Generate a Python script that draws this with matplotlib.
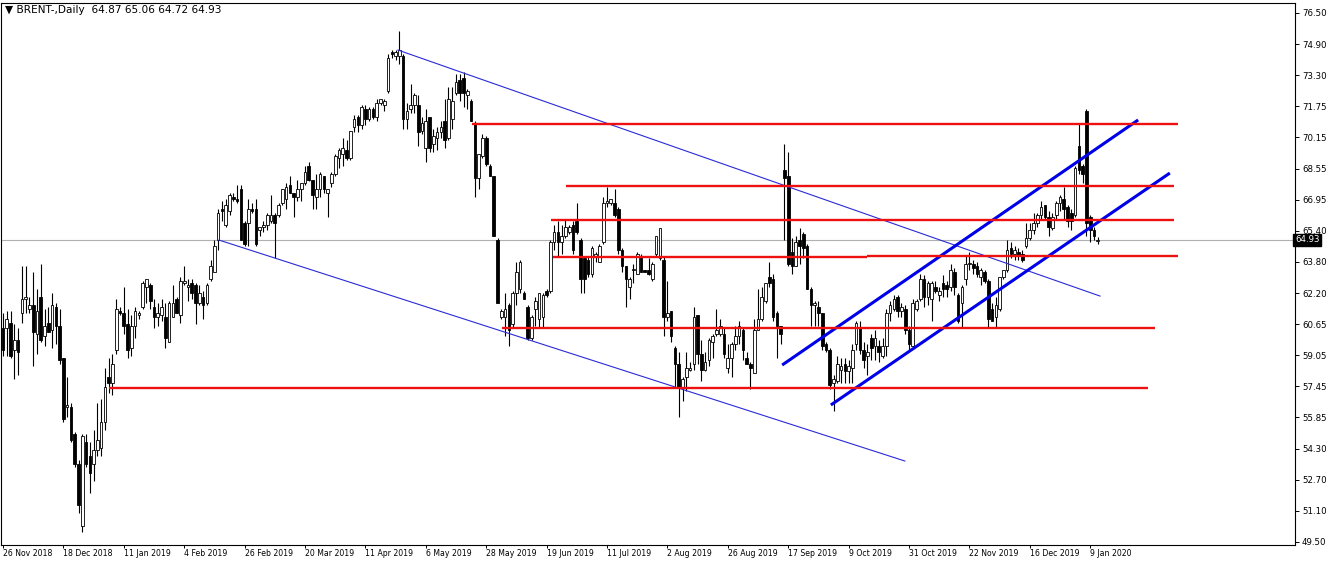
import matplotlib
matplotlib.use("Agg")
import matplotlib.pyplot as plt
import numpy as np

# ---- daily OHLC, bar 0 = 26 Nov 2018 ----
opens = [
    60.4, 60.4, 60.7, 59.3, 59.8, 61.2, 61.9, 61.4, 61.6, 60.1,
    62.0, 60.0, 60.7, 60.3, 61.5, 60.5, 58.9, 56.4, 56.4, 55.0,
    53.5, 50.3, 54.6, 53.9, 53.5, 54.2, 54.3, 55.6, 57.9, 57.6,
    59.3, 61.3, 61.2, 60.6, 59.4, 60.5, 61.1, 61.5, 62.5, 62.6,
    61.5, 61.0, 61.1, 61.0, 59.7, 61.0, 61.9, 61.1, 62.7, 62.5,
    62.7, 62.6, 61.7, 62.0, 61.7, 62.9, 63.3, 64.9, 66.5, 65.7,
    66.4, 67.1, 67.0, 67.5, 65.8, 65.8, 66.5, 66.5, 65.4, 65.6,
    65.7, 65.9, 66.2, 66.2, 66.8, 67.0, 67.7, 67.3, 67.1, 67.5,
    67.8, 68.7, 68.0, 67.1, 67.5, 68.2, 67.3, 67.8, 68.3, 69.1,
    69.3, 69.5, 69.1, 70.7, 71.2, 70.8, 71.6, 71.1, 71.6, 71.2,
    71.9, 71.8, 72.5, 74.5, 74.3, 74.3, 74.3, 71.1, 71.6, 71.8,
    71.8, 70.5, 69.6, 71.2, 69.8, 70.1, 70.4, 71.0, 70.1, 71.1,
    72.4, 73.1, 73.2, 72.3, 72.0, 70.9, 68.1, 69.2, 70.1, 68.7,
    68.2, 64.9, 61.0, 61.0, 61.6, 60.6, 62.2, 62.4, 62.2, 61.5,
    59.9, 61.4, 60.9, 61.0, 62.3, 62.3, 64.8, 65.3, 64.8, 65.1,
    65.3, 65.7, 65.9, 64.9, 64.0, 63.9, 63.2, 64.1, 63.8, 64.8,
    66.8, 66.8, 66.8, 66.5, 64.4, 63.6, 62.5, 63.4, 63.2, 64.1,
    63.4, 63.4, 62.9, 64.2, 64.0, 63.9, 61.0, 61.3, 59.4, 58.6,
    57.4, 57.9, 58.3, 58.6, 61.1, 59.1, 58.3, 58.8, 59.7, 60.1,
    60.1, 60.1, 58.4, 58.9, 59.6, 60.0, 60.3, 58.9, 58.6, 58.1,
    60.3, 60.9, 61.8, 63.0, 62.9, 61.2, 60.5, 68.5, 68.2, 64.3,
    63.6, 64.9, 65.2, 64.6, 62.4, 61.6, 61.5, 61.2, 59.6, 59.3,
    57.6, 57.7, 58.3, 58.6, 58.2, 58.4, 59.6, 60.4, 59.3, 59.0,
    59.9, 59.5, 59.5, 59.0, 59.5, 61.2, 61.4, 62.0, 61.3, 61.4,
    60.3, 59.5, 61.4, 61.9, 62.9, 62.0, 61.9, 62.5, 62.1, 62.7,
    62.6, 62.5, 63.3, 62.1, 61.7, 62.9, 63.7, 63.7, 63.6, 63.0,
    63.3, 62.8, 61.4, 61.0, 61.4, 63.0, 63.4, 64.5, 64.2, 64.3,
    64.2, 64.6, 65.0, 65.4, 65.8, 66.2, 66.7, 66.1, 65.5, 66.2,
    66.8, 67.0, 66.6, 66.3, 66.2, 69.7, 68.7, 71.5, 66.1, 65.4,
    64.87,
]
highs = [
    61.2, 61.3, 61.3, 60.6, 60.4, 63.6, 63.6, 62.0, 63.3, 62.4,
    63.7, 61.4, 61.5, 62.2, 61.7, 61.4, 58.9, 57.9, 56.6, 55.1,
    53.7, 55.0, 55.0, 54.6, 55.2, 56.6, 56.8, 58.4, 58.9, 59.1,
    61.9, 61.5, 62.5, 61.4, 61.1, 61.5, 61.3, 62.8, 62.9, 62.7,
    61.9, 61.7, 61.9, 61.7, 61.8, 62.6, 62.0, 63.0, 63.6, 62.9,
    62.9, 62.7, 62.6, 62.3, 62.7, 63.9, 64.9, 66.5, 66.9, 67.0,
    67.3, 67.3, 67.7, 67.7, 65.9, 67.0, 66.8, 67.0, 65.6, 65.9,
    66.3, 67.2, 66.3, 66.8, 67.5, 67.8, 68.2, 67.3, 68.0, 67.8,
    68.7, 68.9, 68.0, 68.3, 68.4, 68.2, 67.5, 68.4, 69.3, 69.6,
    70.1, 70.0, 70.5, 71.3, 71.3, 71.8, 71.8, 71.7, 71.7, 72.1,
    72.1, 72.1, 74.4, 74.6, 74.6, 75.6, 74.4, 71.9, 72.9, 72.4,
    72.3, 71.2, 71.6, 71.2, 70.6, 70.7, 71.0, 72.1, 72.7, 72.7,
    73.4, 73.4, 73.5, 72.6, 72.1, 71.0, 69.3, 70.3, 70.2, 68.8,
    68.2, 65.0, 61.4, 62.2, 61.7, 62.3, 63.8, 63.9, 62.3, 61.6,
    61.1, 62.0, 62.2, 62.2, 62.4, 64.9, 65.7, 65.9, 65.7, 66.0,
    65.7, 65.9, 66.8, 65.0, 64.1, 64.1, 64.6, 64.3, 64.7, 67.1,
    67.6, 67.0, 67.5, 66.6, 64.5, 63.6, 63.0, 63.7, 64.3, 64.2,
    63.4, 64.0, 63.8, 65.1, 65.5, 64.1, 62.8, 61.3, 59.5, 59.2,
    57.9, 59.2, 58.7, 61.5, 61.1, 59.8, 59.2, 59.9, 60.1, 61.4,
    60.9, 60.4, 59.6, 59.7, 60.5, 60.8, 60.4, 59.2, 58.7, 60.9,
    62.4, 62.5, 62.7, 63.8, 63.2, 61.3, 60.5, 69.8, 69.4, 65.0,
    65.1, 65.5, 65.3, 64.7, 62.5, 61.8, 61.8, 61.2, 59.7, 59.4,
    58.0, 59.0, 58.9, 58.9, 58.8, 59.6, 60.8, 60.8, 59.7, 59.6,
    60.1, 60.3, 59.8, 59.9, 61.4, 61.8, 62.1, 62.1, 61.7, 61.6,
    60.5, 61.9, 61.9, 63.2, 63.1, 62.8, 62.8, 62.8, 62.5, 63.1,
    62.8, 63.7, 63.5, 62.2, 62.6, 64.1, 64.3, 63.9, 63.8, 63.5,
    63.4, 62.9, 61.7, 62.0, 63.0, 63.4, 64.9, 64.8, 64.6, 64.5,
    64.4, 65.8, 65.8, 66.3, 66.3, 66.9, 66.7, 66.4, 66.3, 66.9,
    67.2, 67.6, 66.7, 66.5, 68.7, 70.9, 68.8, 71.6, 66.2, 65.6,
    65.06,
]
lows = [
    59.0, 59.0, 58.9, 57.8, 58.0, 60.7, 61.2, 61.2, 58.5, 59.1,
    59.7, 59.5, 60.2, 59.4, 59.6, 58.6, 55.6, 55.9, 54.6, 53.3,
    51.0, 50.0, 53.3, 52.0, 52.6, 53.9, 53.9, 55.2, 57.1, 57.0,
    59.1, 61.1, 60.1, 58.9, 59.0, 59.9, 60.9, 61.4, 61.7, 61.4,
    60.4, 60.5, 60.8, 59.4, 59.7, 61.0, 61.2, 60.7, 62.6, 61.8,
    61.9, 60.6, 61.6, 60.9, 61.6, 62.8, 63.3, 64.4, 65.9, 65.6,
    66.2, 66.9, 66.8, 64.9, 64.6, 64.6, 66.3, 64.6, 65.1, 65.3,
    65.4, 65.8, 64.0, 66.1, 66.7, 66.5, 67.3, 66.1, 66.9, 66.9,
    67.7, 67.9, 66.5, 66.5, 67.1, 67.3, 66.1, 67.6, 68.2, 68.6,
    68.7, 69.0, 69.0, 70.4, 70.4, 70.6, 70.8, 71.0, 71.1, 71.0,
    71.8, 71.5, 72.4, 74.2, 74.1, 73.9, 70.6, 70.6, 71.4, 71.4,
    69.7, 70.3, 68.9, 69.4, 69.4, 69.5, 70.1, 69.6, 70.0, 70.6,
    72.3, 72.0, 71.7, 71.6, 71.0, 67.1, 67.5, 69.1, 68.7, 68.2,
    65.1, 61.7, 60.9, 60.0, 59.5, 60.4, 61.6, 62.2, 61.9, 59.8,
    59.8, 60.5, 60.4, 60.4, 62.0, 62.2, 64.4, 64.1, 64.2, 65.0,
    65.2, 64.2, 65.2, 62.2, 62.2, 63.0, 63.0, 63.8, 63.8, 64.7,
    66.6, 66.7, 66.1, 64.2, 63.3, 61.5, 61.9, 62.7, 63.2, 63.3,
    63.3, 63.1, 62.8, 64.1, 63.9, 60.0, 60.8, 59.7, 57.4, 55.9,
    56.7, 57.2, 58.2, 58.3, 58.6, 57.7, 58.2, 58.5, 58.9, 60.0,
    60.0, 58.9, 58.1, 57.9, 59.3, 59.6, 58.8, 58.6, 57.3, 58.1,
    60.3, 60.8, 61.7, 62.5, 60.8, 58.9, 59.6, 64.9, 63.6, 63.2,
    63.6, 63.7, 64.0, 62.4, 60.5, 60.5, 60.5, 59.3, 59.2, 57.3,
    56.2, 57.6, 57.6, 57.6, 57.6, 57.6, 59.3, 59.1, 58.4, 58.0,
    58.8, 58.8, 58.7, 58.9, 59.0, 60.8, 61.3, 61.0, 61.0, 60.1,
    59.3, 59.4, 61.3, 61.8, 61.5, 61.6, 60.8, 62.2, 61.8, 62.0,
    62.0, 62.3, 62.1, 60.7, 60.4, 62.6, 63.4, 63.2, 63.0, 62.6,
    62.7, 60.4, 60.8, 60.4, 61.3, 62.9, 63.3, 64.0, 63.9, 63.9,
    63.8, 64.5, 64.9, 65.2, 65.6, 66.0, 66.0, 65.1, 65.4, 66.0,
    66.4, 66.0, 65.6, 65.4, 66.1, 68.3, 67.8, 65.1, 64.8, 64.9,
    64.72,
]
closes = [
    59.3, 60.9, 59.0, 59.8, 59.2, 61.9, 62.0, 61.6, 60.2, 61.3,
    59.8, 60.5, 60.2, 61.6, 60.5, 58.8, 55.8, 56.5, 54.7, 53.5,
    51.4, 54.9, 53.5, 53.0, 54.2, 54.7, 55.6, 57.4, 57.6, 58.6,
    61.4, 61.2, 60.5, 59.3, 60.5, 61.3, 61.2, 62.7, 62.9, 61.8,
    61.0, 61.2, 61.5, 59.9, 61.7, 61.7, 61.2, 62.8, 62.8, 62.6,
    62.2, 61.7, 62.2, 61.6, 62.6, 63.6, 64.6, 66.3, 66.4, 66.7,
    67.2, 67.0, 66.9, 64.9, 64.7, 66.5, 66.4, 64.7, 65.6, 65.7,
    66.2, 66.2, 65.8, 66.7, 67.5, 67.6, 67.3, 67.1, 67.5, 67.8,
    68.4, 68.0, 67.2, 67.5, 68.3, 67.5, 67.5, 68.3, 69.2, 69.5,
    69.6, 69.1, 70.5, 71.1, 70.8, 71.7, 71.1, 71.6, 71.2, 71.9,
    72.1, 72.0, 74.2, 74.4, 74.5, 74.6, 71.1, 71.5, 71.8, 72.3,
    70.4, 70.9, 71.0, 69.6, 70.2, 70.4, 70.7, 70.0, 72.1, 72.0,
    73.0, 72.4, 72.4, 72.5, 71.0, 68.1, 69.3, 70.1, 68.8, 68.2,
    65.1, 61.7, 61.3, 61.4, 60.3, 62.2, 63.3, 63.8, 61.9, 59.9,
    61.0, 61.8, 62.2, 62.1, 62.1, 64.8, 65.3, 64.8, 65.1, 65.6,
    65.6, 64.4, 65.3, 62.9, 62.9, 63.2, 64.5, 64.2, 64.6, 66.8,
    66.9, 67.0, 66.2, 64.4, 63.6, 62.9, 62.9, 63.4, 64.2, 63.3,
    63.3, 63.2, 63.7, 65.1, 65.5, 61.0, 61.2, 60.0, 58.6, 57.4,
    57.8, 58.4, 58.4, 61.0, 59.1, 58.3, 58.7, 59.8, 60.0, 60.3,
    60.5, 59.1, 58.9, 59.6, 60.0, 60.5, 59.3, 58.6, 58.4, 60.3,
    60.9, 62.0, 62.7, 62.7, 61.0, 60.5, 60.1, 68.1, 63.7, 63.6,
    64.8, 64.6, 64.5, 62.4, 61.6, 61.7, 61.2, 59.5, 59.3, 57.5,
    57.8, 58.6, 58.5, 58.2, 58.5, 59.3, 60.7, 59.3, 58.8, 59.2,
    59.4, 59.9, 59.2, 59.5, 61.2, 61.6, 61.9, 61.3, 61.5, 60.3,
    59.6, 61.7, 61.8, 62.9, 62.0, 62.7, 62.7, 62.3, 62.3, 62.4,
    62.4, 63.4, 62.5, 60.8, 62.5, 63.7, 63.7, 63.5, 63.2, 63.4,
    62.8, 60.9, 60.8, 61.6, 63.0, 63.4, 64.4, 64.2, 64.4, 64.1,
    63.9, 65.0, 65.4, 65.8, 66.2, 66.6, 66.1, 65.6, 66.1, 66.8,
    67.1, 66.5, 65.9, 65.9, 68.6, 68.5, 68.3, 65.8, 65.4, 65.1,
    64.93,
]

date_labels = ["26 Nov 2018", "18 Dec 2018", "11 Jan 2019", "4 Feb 2019",
               "26 Feb 2019", "20 Mar 2019", "11 Apr 2019", "6 May 2019",
               "28 May 2019", "19 Jun 2019", "11 Jul 2019", "2 Aug 2019",
               "26 Aug 2019", "17 Sep 2019", "9 Oct 2019", "31 Oct 2019",
               "22 Nov 2019", "16 Dec 2019", "9 Jan 2020"]
bars_per_label = 16
price_labels = ["49.50", "51.10", "52.70", "54.30", "55.85", "57.45", "59.05",
                "60.65", "62.20", "63.80", "65.40", "66.95", "68.55", "70.15",
                "71.75", "73.30", "74.90", "76.50"]
last_price = 64.93

# horizontal levels (price, from bar, to bar)
red_price = [70.83, 67.67, 65.95, 64.05, 64.12, 60.40, 57.34]
red_from = [124.2, 149.1, 145.2, 145.7, 229.0, 132.2, 28.1]
red_to = [311.3, 310.2, 310.2, 229.0, 311.3, 305.2, 303.3]

# trend lines: [bar0, bar1], [price0, price1]
thin_x = [[104.6, 290.6], [57.2, 238.9]]
thin_y = [[74.61, 62.05], [64.91, 53.63]]
thick_x = [[206.4, 300.7], [219.3, 309.1]]
thick_y = [[58.53, 71.04], [56.49, 68.33]]

W, H = 1332, 564
plt.rcParams["font.family"] = ["DejaVu Sans"]
fig = plt.figure(figsize=(W / 100, H / 100), dpi=100)
fig.patch.set_facecolor("white")
ax = fig.add_axes([1 / W, (H - 545) / H, 1294 / W, 542 / H])

o = np.array(opens); h = np.array(highs); l = np.array(lows); c = np.array(closes)
x = np.arange(len(o))
up = c >= o

ax.axhline(last_price, color="#b0b0b0", lw=0.8, zorder=1)

ax.vlines(x, l, h, color="black", lw=0.8, zorder=2)
body_lo = np.minimum(o, c)
body_h = np.maximum(np.abs(c - o), 0.04)
ax.bar(x[up], body_h[up], bottom=body_lo[up], width=0.7,
       color="white", edgecolor="black", linewidth=0.6, zorder=3)
ax.bar(x[~up], body_h[~up], bottom=body_lo[~up], width=0.7,
       color="black", edgecolor="black", linewidth=0.6, zorder=3)

for xs, ys in zip(thin_x, thin_y):
    ax.plot(xs, ys, color="#2a2ad8", lw=0.8, zorder=4)
for xs, ys in zip(thick_x, thick_y):
    ax.plot(xs, ys, color="#0000e8", lw=2.2, zorder=4, solid_capstyle="butt")
ax.hlines(red_price, red_from, red_to, color="#ee1111", lw=1.7, zorder=5)

ax.set_xlim(-0.53, 342.25)
ax.set_ylim(49.343, 77.01)

ax.yaxis.tick_right()
ax.set_yticks(np.linspace(49.5, 76.5, len(price_labels)))
ax.set_yticklabels(price_labels)
ax.set_xticks(np.arange(len(date_labels)) * bars_per_label)
ax.set_xticklabels(date_labels, ha="left")
ax.tick_params(axis="y", direction="out", length=3, width=0.7, pad=2,
               labelsize=6.2, colors="black")
ax.tick_params(axis="x", direction="out", length=2, width=0.7, pad=0.8,
               labelsize=5.6, colors="black")
for sp in ax.spines.values():
    sp.set_color("black")
    sp.set_linewidth(0.8)

ax.text(1.0, last_price, "64.93", transform=ax.get_yaxis_transform(),
        ha="left", va="center", color="white", fontsize=6.2, zorder=10,
        clip_on=False,
        bbox=dict(boxstyle="square,pad=0.18", fc="black", ec="black"))

fig.text(5 / W, 1 - 10 / H, "\u25bc BRENT-,Daily  64.87 65.06 64.72 64.93",
         ha="left", va="center", fontsize=7.6, color="black")

fig.savefig("out.png", dpi=100, facecolor="white")
